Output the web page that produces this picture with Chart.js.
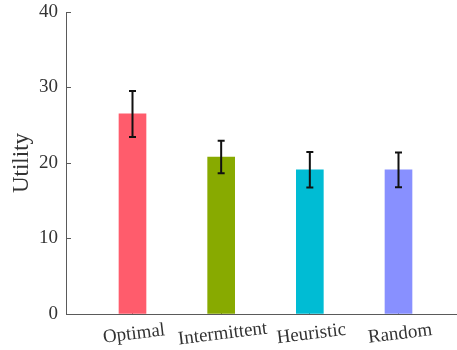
<!DOCTYPE html>
<html>
<head>
<meta charset="utf-8">
<script src="https://cdn.jsdelivr.net/npm/chart.js@4/dist/chart.umd.min.js"></script>
<style>
  html, body { margin: 0; padding: 0; background: #fff; overflow: hidden; }
  #wrap { width: 466px; height: 350px; }
  .fontwarm { font-family: "Liberation Serif"; position: absolute; left: -999px; }
</style>
</head>
<body>
<span class="fontwarm">Utility 0123456789</span>
<div id="wrap"><canvas id="c" width="466" height="350"></canvas></div>
<script>
// Mean utility per strategy, with the half-width of each error bar
const categories = ['Optimal', 'Intermittent', 'Heuristic', 'Random'];
const utilityMean = [26.5, 20.8, 19.1, 19.1];
const utilityErr = [3.05, 2.15, 2.35, 2.3];
const barColors = ['rgb(255,92,108)', 'rgb(136,170,0)', 'rgb(0,188,212)', 'rgb(136,144,255)'];
const yTicks = [0, 10, 20, 30, 40];

const serif = '"Liberation Serif", "Times New Roman", serif';
const axisColor = '#5a5a5a';
const textColor = '#333';

// Vertical error bars with short caps, drawn over the bars
const errorBars = {
  id: 'errorBars',
  afterDatasetsDraw(chart) {
    const { ctx, scales: { x, y } } = chart;
    ctx.save();
    ctx.strokeStyle = '#111';
    ctx.lineWidth = 2;
    utilityMean.forEach((m, i) => {
      const px = x.getPixelForValue(i + 1);
      const top = y.getPixelForValue(m + utilityErr[i]);
      const bot = y.getPixelForValue(m - utilityErr[i]);
      ctx.beginPath();
      ctx.moveTo(px, top); ctx.lineTo(px, bot);
      ctx.moveTo(px - 3.5, top); ctx.lineTo(px + 3.5, top);
      ctx.moveTo(px - 3.5, bot); ctx.lineTo(px + 3.5, bot);
      ctx.stroke();
    });
    ctx.restore();
  }
};

// Slightly tilted category names, centred under each bar
const tiltedLabels = {
  id: 'tiltedLabels',
  afterDraw(chart) {
    const { ctx, scales: { x } } = chart;
    ctx.save();
    ctx.font = '19px ' + serif;
    ctx.fillStyle = textColor;
    ctx.textAlign = 'center';
    ctx.textBaseline = 'middle';
    categories.forEach((name, i) => {
      ctx.save();
      ctx.translate(x.getPixelForValue(i + 1) + 1.5, x.top + 20);
      ctx.rotate(-7 * Math.PI / 180);
      ctx.fillText(name, 0, 0);
      ctx.restore();
    });
    ctx.restore();
  }
};

function draw() {
  new Chart(document.getElementById('c'), {
    type: 'bar',
    data: {
      datasets: [{
        data: utilityMean.map((v, i) => ({ x: i + 1, y: v })),
        backgroundColor: barColors,
        barThickness: 27,
        borderWidth: 0
      }]
    },
    options: {
      responsive: false,
      animation: false,
      events: [],
      layout: { padding: { top: 12, left: 0, right: 1, bottom: 0 } },
      plugins: { legend: { display: false }, tooltip: { enabled: false } },
      scales: {
        x: {
          type: 'linear',
          offset: false,
          min: 0.25,
          max: 4.75,
          afterBuildTicks: (s) => { s.ticks = categories.map((c, i) => ({ value: i + 1 })); },
          afterFit: (s) => { s.height = 36; s.paddingLeft = 0; s.paddingRight = 0; },
          ticks: { display: false },
          grid: { offset: false, drawOnChartArea: false, drawTicks: true, tickLength: -4, color: axisColor, lineWidth: 1 },
          border: { display: true, color: axisColor, width: 1 }
        },
        y: {
          min: 0,
          max: 40,
          afterBuildTicks: (s) => { s.ticks = yTicks.map(v => ({ value: v })); },
          afterFit: (s) => { s.width = 66; s.paddingTop = 0; s.paddingBottom = 0; },
          ticks: {
            font: { family: serif, size: 19 },
            color: textColor,
            padding: 13
          },
          grid: { drawOnChartArea: false, drawTicks: true, tickLength: -5, color: axisColor, lineWidth: 1 },
          border: { display: true, color: axisColor, width: 1 },
          title: {
            display: true,
            text: 'Utility',
            font: { family: serif, size: 23 },
            color: textColor,
            padding: { top: 8, bottom: 0 }
          }
        }
      }
    },
    plugins: [errorBars, tiltedLabels]
  });
}

if (document.fonts && document.fonts.load) {
  Promise.all([
    document.fonts.load('19px "Liberation Serif"'),
    document.fonts.load('23px "Liberation Serif"')
  ]).then(draw, draw);
} else {
  draw();
}
</script>
</body>
</html>
